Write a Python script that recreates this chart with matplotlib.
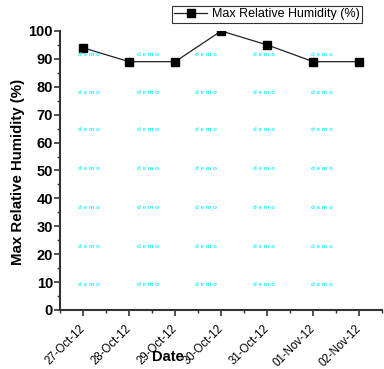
import matplotlib
matplotlib.use('Agg')
import matplotlib.pyplot as plt
from matplotlib.ticker import MultipleLocator

plt.rcParams['font.family'] = ['Liberation Sans', 'DejaVu Sans']

dates = ['27-Oct-12', '28-Oct-12', '29-Oct-12', '30-Oct-12', '31-Oct-12', '01-Nov-12', '02-Nov-12']
humidity = [94, 89, 89, 100, 95, 89, 89]

fig = plt.figure(figsize=(3.84, 3.69), dpi=100)
ax = fig.add_axes([0.156, 0.16, 0.84, 0.756])

x = list(range(len(dates)))
ax.plot(x, humidity, color='#222222', lw=0.9, marker='s', markersize=5.5,
        markerfacecolor='black', markeredgecolor='black', label='Max Relative Humidity (%)')

ax.set_xlim(-0.5, 6.5)
ax.set_ylim(0, 100)
ax.set_xticks(x)
ax.set_xticklabels(dates, rotation=45, ha='right', va='center', rotation_mode='anchor', fontsize=8.3)
ax.xaxis.set_minor_locator(MultipleLocator(0.5))
ax.yaxis.set_major_locator(MultipleLocator(10))
ax.yaxis.set_minor_locator(MultipleLocator(5))
for lbl in ax.get_yticklabels():
    lbl.set_fontweight('bold')
    lbl.set_fontsize(10.5)
ax.tick_params(axis='both', which='major', direction='out', length=4, width=1.2, color='#333333')
ax.tick_params(axis='both', which='minor', direction='out', length=2.5, width=1, color='#333333')
ax.tick_params(axis='x', pad=8)
ax.tick_params(axis='y', pad=1)
ax.spines['top'].set_visible(False)
ax.spines['right'].set_visible(False)
ax.spines['left'].set_linewidth(1.5)
ax.spines['bottom'].set_linewidth(1.5)
ax.spines['left'].set_color('#333333')
ax.spines['bottom'].set_color('#333333')

fig.text(18/384, 1 - 172/369, 'Max Relative Humidity (%)', fontsize=10.8, fontweight='bold',
         rotation=90, ha='center', va='center')
fig.text(168/384, 1 - 357/369, 'Date', fontsize=10.5, fontweight='bold', ha='center', va='center')

# watermark
for wx in [89, 148, 206, 264, 322]:
    for wy in [54, 92, 130, 168, 207, 246, 284]:
        fig.text(wx/384, 1 - wy/369, 'd e m o', fontsize=4.5, color='#22f4ff', fontweight='bold',
                 ha='center', va='center')

leg = fig.legend(loc='upper right', bbox_to_anchor=(362/384, 1 - 6/369), fontsize=9,
                 frameon=True, fancybox=False, edgecolor='black', handlelength=2.6,
                 borderpad=0.2, handletextpad=0.4, borderaxespad=0)
leg.get_frame().set_linewidth(0.8)

plt.savefig('out.png', dpi=100)
plt.close()
